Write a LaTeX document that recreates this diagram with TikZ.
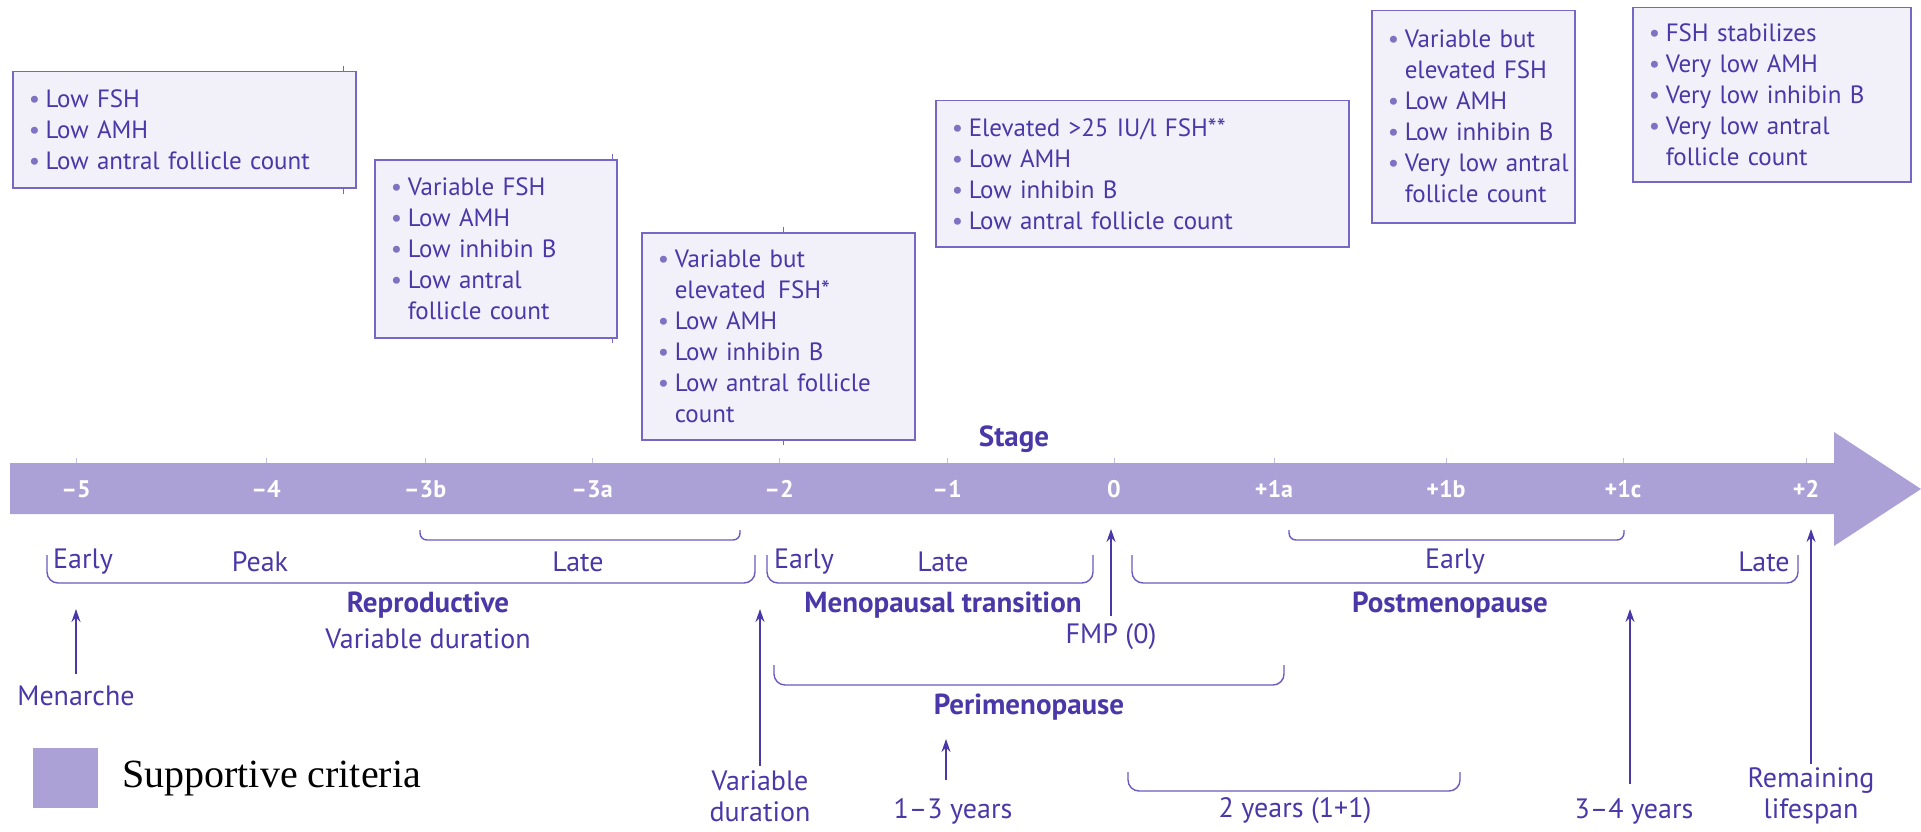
\documentclass[tikz,border=0pt]{standalone}
\usepackage{fontspec}
\setmainfont{PT Sans}
\newfontfamily\legendfont{Liberation Serif}
\usetikzlibrary{arrows.meta}
\definecolor{band}{HTML}{ABA1D6}
\definecolor{boxfill}{HTML}{F2F0F9}
\definecolor{boxline}{HTML}{7467C6}
\definecolor{txt}{HTML}{4A38A8}
\definecolor{bul}{HTML}{7F72C2}
\definecolor{brk}{HTML}{6A5BBE}
\newcommand\li[1]{\makebox[17pt][l]{\textcolor{bul}{•}}\mbox{#1}}
\newcommand\ct[1]{\hspace*{17pt}\mbox{#1}}
\begin{document}
\begin{tikzpicture}[x=1pt,y=-1pt,
  box/.style={draw=boxline, line width=1.5pt, fill=boxfill, anchor=north west,
    align=left, inner xsep=16pt, inner ysep=0pt, text=txt,
    font=\fontsize{25}{31}\selectfont},
  stagelbl/.style={text=white, font=\fontsize{24}{28}\selectfont\bfseries, inner sep=0pt},
  lbl/.style={text=txt, font=\fontsize{28}{31}\selectfont, inner sep=0pt, align=center},
  boldlbl/.style={text=txt, font=\fontsize{29}{31}\selectfont\bfseries, inner sep=0pt},
  brack/.style={draw=brk, line width=1.4pt, rounded corners=11pt},
  sbrack/.style={draw=brk, line width=1.4pt, rounded corners=7pt},
  arr/.style={draw=txt, line width=1.6pt, -{Stealth[length=13pt,width=9pt]}},
  tick/.style={draw=band!70!white, line width=0.8pt},
  btick/.style={draw=boxline, line width=1pt}
]
\useasboundingbox (0,0) rectangle (1921,832);

% boxes
\node[box, minimum height=116pt, text width=311pt] (b1) at (12,71)
  {\li{Low FSH}\\ \li{Low AMH}\\ \li{Low antral follicle count}};
\node[box, minimum height=178pt, text width=210pt] (b2) at (374,159)
  {\li{Variable FSH}\\ \li{Low AMH}\\ \li{Low inhibin B}\\ \li{Low antral}\\ \ct{follicle count}};
\node[box, minimum height=207pt, text width=241pt] (b3) at (641,232)
  {\li{Variable but}\\ \ct{elevated\, FSH*}\\ \li{Low AMH}\\ \li{Low inhibin B}\\ \li{Low antral follicle}\\ \ct{count}};
\node[box, minimum height=146pt, text width=381pt] (b4) at (935,100)
  {\li{Elevated >25 IU/l FSH**}\\ \li{Low AMH}\\ \li{Low inhibin B}\\ \li{Low antral follicle count}};
\node[box, minimum height=212pt, text width=171pt] (b5) at (1371,10)
  {\li{Variable but}\\ \ct{elevated FSH}\\ \li{Low AMH}\\ \li{Low inhibin B}\\ \li{Very low antral}\\ \ct{follicle count}};
\node[box, minimum height=174pt, text width=246pt] (b6) at (1632,7)
  {\li{FSH stabilizes}\\ \li{Very low AMH}\\ \li{Very low inhibin B}\\ \li{Very low antral}\\ \ct{follicle count}};

% small marks on box edges
\draw[btick] ([xshift=-13pt]b1.north east) -- ++(0,-5);
\draw[btick] ([xshift=-13pt]b1.south east) -- ++(0,5);
\draw[btick] ([xshift=-5pt]b2.north east) -- ++(0,-5);
\draw[btick] ([xshift=-5pt]b2.south east) -- ++(0,4);
\draw[btick] ([xshift=-132pt]b3.north east) -- ++(0,-5);
\draw[btick] ([xshift=-132pt]b3.south east) -- ++(0,4);

% band arrow
\fill[band] (10,463) -- (1834,463) -- (1834,432) -- (1921,489) -- (1834,546)
  -- (1834,514) -- (10,514) -- cycle;
\foreach \x in {76,266,425,592,779,947,1114,1274,1446,1623,1806}
  \draw[tick] (\x,458) -- (\x,463);

\node[boldlbl] (stage) at (1014,439) {Stage};
\node[stagelbl] (s5) at (76,489) {–5};
\node[stagelbl] (s4) at (266,489) {–4};
\node[stagelbl] (s3b) at (425,489) {–3b};
\node[stagelbl] (s3a) at (592,489) {–3a};
\node[stagelbl] (s2) at (779,489) {–2};
\node[stagelbl] (s1) at (947,489) {–1};
\node[stagelbl] (s0) at (1114,489) {0};
\node[stagelbl] (p1a) at (1274,489) {+1a};
\node[stagelbl] (p1b) at (1446,489) {+1b};
\node[stagelbl] (p1c) at (1623,489) {+1c};
\node[stagelbl] (p2) at (1806,489) {+2};

% small brackets
\draw[sbrack] (420,530) -- (420,540) -- (740,540) -- (740,530);
\draw[sbrack] (1289,530) -- (1289,540) -- (1624,540) -- (1624,530);

% sub-stage labels
\node[lbl] (e1) at (83,562) {Early};
\node[lbl] (pk) at (260,562) {Peak};
\node[lbl] (l1) at (578,562) {Late};
\node[lbl] (e2) at (804,562) {Early};
\node[lbl] (l2) at (943,562) {Late};
\node[lbl] (e3) at (1455,562) {Early};
\node[lbl] (l3) at (1764,562) {Late};

% main brackets
\draw[brack] (47,555) -- (47,583) -- (755,583) -- (755,555);
\draw[brack] (767,555) -- (767,583) -- (1093,583) -- (1093,555);
\draw[brack] (1132,555) -- (1132,583) -- (1798,583) -- (1798,555);

\node[boldlbl] (repro) at (428,605) {Reproductive};
\node[lbl] (vd1) at (428,639) {Variable duration};
\node[boldlbl] (mt) at (943,605) {Menopausal transition};
\node[boldlbl] (post) at (1450,605) {Postmenopause};

% perimenopause
\draw[brack] (774,665) -- (774,685) -- (1284,685) -- (1284,665);
\node[boldlbl] (peri) at (1029,707) {Perimenopause};
\draw[brack] (1128,772) -- (1128,791) -- (1460,791) -- (1460,772);

% bottom labels
\node[lbl] (menarche) at (76,696) {Menarche};
\node[lbl] (fmp) at (1111,637) {FMP (0)};
\node[lbl] (vd2) at (760,796) {Variable\\duration};
\node[lbl] (y13) at (953,811) {1–3 years};
\node[lbl] (y2) at (1295,811) {2 years (1+1)};
\node[lbl] (y34) at (1634,811) {3–4 years};
\node[lbl] (rl) at (1811,796) {Remaining\\lifespan};

% arrows
\coordinate (tmen) at (76,609);
\coordinate (tvd) at (760,609);
\coordinate (tfmp) at (1111,529);
\coordinate (t13) at (946,739);
\coordinate (t34) at (1630,609);
\coordinate (trl) at (1811,529);
\draw[arr] (76,674) -- (tmen);
\draw[arr] (vd2.north -| tvd) ++(0,-4) -- (tvd);
\draw[arr] (1111,616) -- (tfmp);
\draw[arr] (946,780) -- (t13);
\draw[arr] (1630,784) -- (t34);
\draw[arr] (rl.north -| trl) ++(0,-4) -- (trl);

% legend
\fill[band] (33,748) rectangle (98,808);
\node[anchor=west, inner sep=0pt, font=\legendfont\fontsize{40}{44}\selectfont] (leg) at (122,779) {Supportive criteria};
\end{tikzpicture}
\end{document}
